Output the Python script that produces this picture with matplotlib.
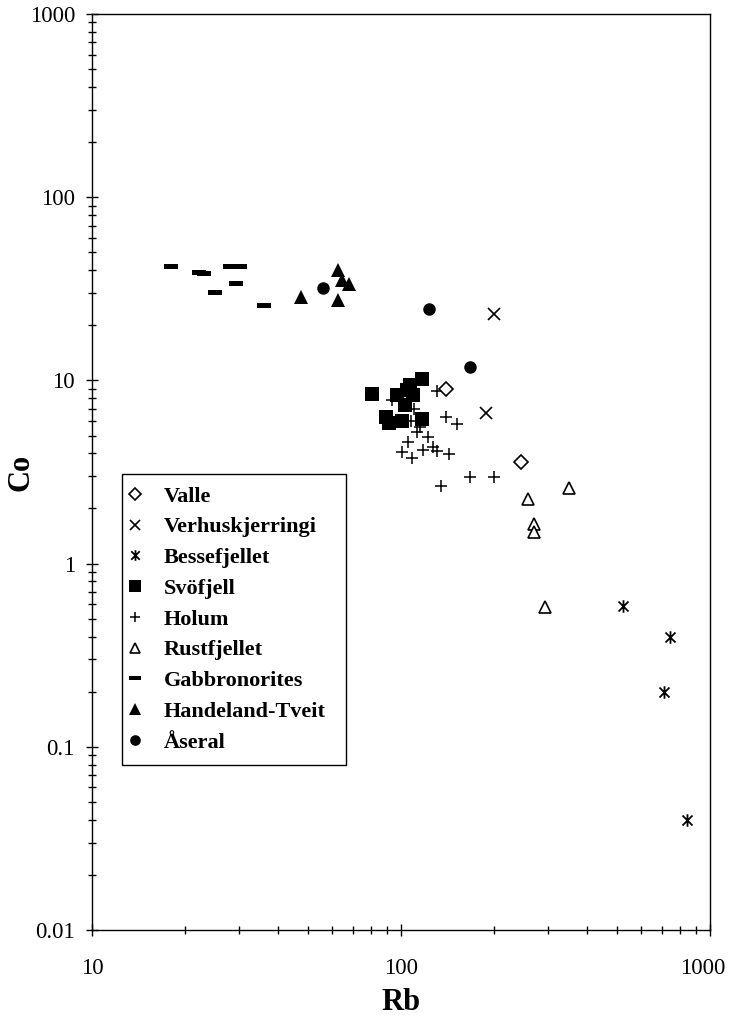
import matplotlib
matplotlib.use("Agg")
import matplotlib.pyplot as plt
from matplotlib.path import Path
from matplotlib.transforms import ScaledTranslation
from matplotlib.ticker import LogLocator, FuncFormatter, NullFormatter

# Rb (ppm) and Co (ppm) by pluton / rock group
valle_rb = [140, 244]
valle_co = [9.0, 3.6]

verh_rb = [200, 188]
verh_co = [22.9, 6.6]

besse_rb = [524, 742, 711, 840]
besse_co = [0.59, 0.40, 0.20, 0.040]

svo_rb = [80.4, 116.7, 107, 104.3, 97.3, 103, 109.7, 89.5, 91.5, 100.5, 116.7]
svo_co = [8.40, 10.2, 9.44, 8.87, 8.32, 7.34, 8.32, 6.34, 5.83, 6.03, 6.16]

holum_rb = [131, 140, 152, 110, 107.6, 115, 112.4, 122, 105.6, 101, 108.8,
            118, 126.6, 131, 143, 134.4, 167, 200, 93.3]
holum_co = [8.8, 6.3, 5.76, 6.95, 6.03, 5.59, 5.25, 4.89, 4.63, 4.08, 3.79,
            4.17, 4.31, 4.13, 3.97, 2.65, 2.98, 2.98, 7.8]

rust_rb = [350, 258, 269, 269, 292]
rust_co = [2.58, 2.24, 1.64, 1.49, 0.577]

gab_rb = [18.0, 22.2, 23.0, 28.0, 30.1, 29.2, 25.1, 36.0]
gab_co = [42.3, 39.2, 38.6, 42.3, 42.3, 34.1, 30.4, 25.9]

hand_rb = [62.5, 64.4, 67.9, 47.4, 62.4]
hand_co = [40.1, 35.3, 33.6, 28.6, 27.5]

aser_rb = [55.8, 123.5, 167]
aser_co = [31.8, 24.4, 11.9]

# custom markers: six-armed asterisk and a flat bar
asterisk = Path([(-1, -1), (1, 1), (-1, 1), (1, -1), (0, -1.25), (0, 1.25)],
                [Path.MOVETO, Path.LINETO, Path.MOVETO, Path.LINETO,
                 Path.MOVETO, Path.LINETO])
bar = Path([(-3.5, -1.2), (3.5, -1.2), (3.5, 1.2), (-3.5, 1.2), (-3.5, -1.2)],
           [Path.MOVETO, Path.LINETO, Path.LINETO, Path.LINETO, Path.CLOSEPOLY])

plt.rcParams['font.family'] = ['Liberation Serif', 'DejaVu Serif']

fig = plt.figure(figsize=(7.3, 10.17), dpi=100)
ax = fig.add_axes([92 / 730, 1 - 930 / 1017, 618 / 730, 916 / 1017])

k = dict(ls='none', color='black')
ax.plot(holum_rb, holum_co, marker='+', ms=9, mew=1.1, label='Holum', zorder=3, **k)
ax.plot(valle_rb, valle_co, marker='D', ms=7, mfc='white', mec='black', mew=1.2,
        label='Valle', zorder=4, ls='none')
ax.plot(verh_rb, verh_co, marker='x', ms=8.5, mew=1.2, label='Verhuskjerringi', zorder=4, **k)
ax.plot(besse_rb, besse_co, marker=asterisk, ms=9, mew=1.3, label='Bessefjellet', zorder=4, **k)
ax.plot(svo_rb, svo_co, marker='s', ms=10, mew=0, label='Svöfjell', zorder=5, **k)
ax.plot(rust_rb, rust_co, marker='^', ms=9, mfc='white', mec='black', mew=1.2,
        label='Rustfjellet', zorder=4, ls='none')
ax.plot(gab_rb, gab_co, marker=bar, ms=10.5, mew=0, label='Gabbronorites', zorder=4, **k)
ax.plot(hand_rb, hand_co, marker='^', ms=9.5, mew=0, label='Handeland-Tveit', zorder=4, **k)
ax.plot(aser_rb, aser_co, marker='o', ms=9, mew=0, label='Åseral', zorder=4, **k)

ax.set_xscale('log')
ax.set_yscale('log')
ax.set_xlim(10, 1000)
ax.set_ylim(0.01, 1000)

fmt = FuncFormatter(lambda v, p: f'{v:g}')
for axis in (ax.xaxis, ax.yaxis):
    axis.set_major_locator(LogLocator(base=10, numticks=20))
    axis.set_minor_locator(LogLocator(base=10, subs=range(2, 10), numticks=20))
    axis.set_major_formatter(fmt)
    axis.set_minor_formatter(NullFormatter())

ax.tick_params(which='both', direction='inout', width=1.0, top=False, right=False)
ax.tick_params(which='major', length=8.5)
ax.tick_params(which='minor', length=5.5)
ax.tick_params(axis='x', which='major', labelsize=16.5, pad=16)
ax.tick_params(axis='y', which='major', labelsize=16.5, pad=8)
for s in ax.spines.values():
    s.set_linewidth(1.0)

ax.set_xlabel('Rb', fontsize=22, fontweight='bold')
ax.set_ylabel('Co', fontsize=22, fontweight='bold')
ax.xaxis.set_label_coords(0.5, -0.063)
ax.yaxis.set_label_coords(-0.092, 0.5)

order = ['Valle', 'Verhuskjerringi', 'Bessefjellet', 'Svöfjell', 'Holum',
         'Rustfjellet', 'Gabbronorites', 'Handeland-Tveit', 'Åseral']
h, l = ax.get_legend_handles_labels()
hd = dict(zip(l, h))
leg = ax.legend([hd[n] for n in order], order, loc='lower left', mode='expand',
                bbox_to_anchor=(30 / 618, 165 / 916, 224 / 618, 0), borderaxespad=0,
                prop={'family': 'Liberation Serif', 'weight': 'bold', 'size': 16},
                frameon=True, fancybox=False, edgecolor='black', framealpha=1,
                markerscale=0.85, handlelength=0.1, handletextpad=1.24,
                labelspacing=0.46, borderpad=0.55)
leg.get_frame().set_linewidth(1.0)

# keep the rightmost x tick label inside the figure
fig.canvas.draw()
last = [t for t in ax.get_xticklabels() if t.get_text() == '1000']
for t in last:
    t.set_transform(t.get_transform() + ScaledTranslation(-5 / 72, 0, fig.dpi_scale_trans))

fig.savefig('out.png', dpi=100)
